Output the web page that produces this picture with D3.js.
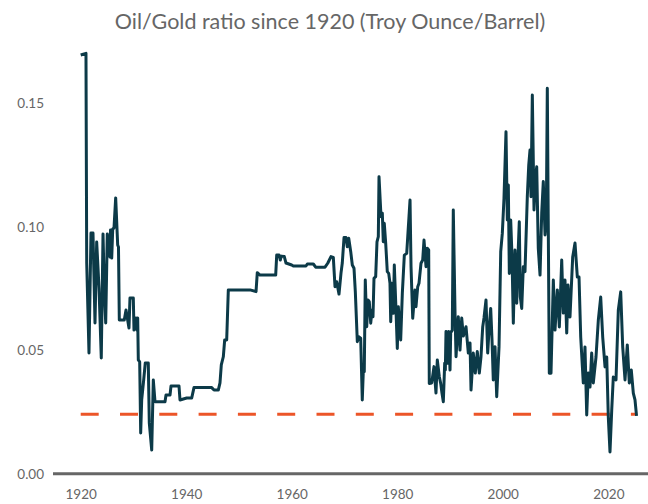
<!DOCTYPE html>
<html>
<head>
<meta charset="utf-8">
<script src="https://cdn.jsdelivr.net/npm/d3@7"></script>
<style>
  html, body { margin: 0; padding: 0; background: #ffffff; }
  svg { display: block; }
  text { font-family: Lato, "Open Sans", sans-serif; }
</style>
</head>
<body>
<svg id="chart" width="648" height="504"></svg>
<script>
const titleText = "Oil/Gold ratio since 1920 (Troy Ounce/Barrel)";
const xTicks = [1920, 1940, 1960, 1980, 2000, 2020];
const yTicks = [0, 0.05, 0.10, 0.15];
const thresholdValue = 0.0241;
const thresholdYears = [1920, 2025.35];

const years = [
  1920.00, 1921.00, 1921.14, 1921.57, 1921.95, 1922.33, 1922.71, 1923.03, 1923.47, 1923.90,
  1924.23, 1924.47, 1924.74, 1925.04, 1925.55, 1925.65, 1925.88, 1926.07, 1926.31, 1926.63,
  1927.01, 1927.16, 1927.32, 1928.26, 1928.59, 1929.15, 1929.34, 1929.97, 1930.10, 1930.48,
  1930.67, 1930.80, 1930.92, 1931.18, 1931.37, 1931.56, 1931.94, 1932.24, 1932.81, 1933.00,
  1933.46, 1933.76, 1934.08, 1935.98, 1936.17, 1936.93, 1937.12, 1938.63, 1938.82, 1940.09,
  1941.04, 1941.47, 1944.83, 1945.27, 1946.08, 1946.40, 1946.65, 1947.03, 1947.29, 1947.67,
  1947.98, 1952.09, 1953.23, 1953.47, 1953.98, 1956.96, 1957.15, 1957.59, 1957.83, 1958.02,
  1958.59, 1958.91, 1959.99, 1960.30, 1962.70, 1962.95, 1964.09, 1964.54, 1966.31, 1966.82,
  1967.44, 1967.88, 1968.20, 1968.52, 1968.96, 1969.34, 1969.58, 1969.91, 1970.28, 1970.53,
  1970.80, 1971.18, 1971.48, 1971.80, 1972.05, 1972.43, 1972.69, 1973.07, 1973.37, 1973.56,
  1973.75, 1973.94, 1974.21, 1974.45, 1974.70, 1974.97, 1975.21, 1975.40, 1975.59, 1975.91,
  1976.16, 1976.41, 1976.54, 1976.92, 1977.17, 1977.35, 1977.54, 1977.81, 1978.11, 1978.38,
  1978.62, 1978.76, 1979.00, 1979.25, 1979.44, 1979.76, 1980.01, 1980.20, 1980.65, 1980.96,
  1981.34, 1981.79, 1982.42, 1982.61, 1982.93, 1983.36, 1983.55, 1983.88, 1984.12, 1984.50,
  1984.82, 1985.07, 1985.45, 1985.69, 1985.96, 1986.07, 1986.53, 1986.96, 1987.34, 1987.59,
  1987.97, 1988.23, 1988.48, 1988.73, 1988.99, 1989.11, 1989.24, 1989.49, 1989.75, 1990.00,
  1990.13, 1990.43, 1990.62, 1990.95, 1991.14, 1991.57, 1991.89, 1992.22, 1992.52, 1993.03,
  1993.47, 1993.79, 1993.98, 1994.41, 1994.79, 1995.17, 1995.55, 1995.87, 1996.20, 1996.44,
  1996.82, 1997.14, 1997.39, 1997.71, 1997.96, 1998.20, 1998.53, 1998.85, 1999.29, 1999.61,
  1999.91, 2000.23, 2000.61, 2000.86, 2001.05, 2001.24, 2001.50, 2001.75, 2002.00, 2002.32,
  2002.64, 2002.94, 2003.13, 2003.32, 2003.59, 2003.89, 2004.21, 2004.65, 2004.92, 2005.16,
  2005.35, 2005.60, 2005.92, 2006.17, 2006.43, 2006.73, 2007.06, 2007.38, 2007.68, 2008.01,
  2008.25, 2008.44, 2008.82, 2009.14, 2009.58, 2009.90, 2010.34, 2010.72, 2011.17, 2011.47,
  2011.79, 2012.12, 2012.36, 2012.74, 2013.25, 2013.69, 2014.13, 2014.45, 2014.77, 2015.26,
  2015.58, 2015.91, 2016.21, 2016.53, 2016.85, 2017.16, 2017.67, 2018.11, 2018.56, 2018.94,
  2019.38, 2019.70, 2020.00, 2020.32, 2020.65, 2020.95, 2021.46, 2021.90, 2022.35, 2022.73,
  2023.17, 2023.60, 2023.98, 2024.36, 2024.74, 2025.06, 2025.35
];

const ratios = [
  0.1697, 0.1704, 0.0854, 0.0489, 0.0976, 0.0976, 0.0611, 0.0939, 0.0753, 0.0469,
  0.0972, 0.0753, 0.0611, 0.0972, 0.0878, 0.0988, 0.0874, 0.0992, 0.0996, 0.1118,
  0.0927, 0.0919, 0.0623, 0.0623, 0.0664, 0.0591, 0.0712, 0.0712, 0.0582, 0.0631,
  0.0582, 0.0631, 0.0461, 0.0453, 0.0165, 0.0299, 0.0380, 0.0449, 0.0449, 0.0206,
  0.0096, 0.0380, 0.0292, 0.0292, 0.0319, 0.0319, 0.0356, 0.0356, 0.0299, 0.0307,
  0.0307, 0.0349, 0.0349, 0.0339, 0.0339, 0.0368, 0.0441, 0.0474, 0.0542, 0.0542,
  0.0745, 0.0745, 0.0738, 0.0815, 0.0805, 0.0805, 0.0886, 0.0886, 0.0866, 0.0882,
  0.0880, 0.0854, 0.0846, 0.0842, 0.0842, 0.0850, 0.0850, 0.0837, 0.0837, 0.0853,
  0.0880, 0.0877, 0.0758, 0.0778, 0.0728, 0.0814, 0.0854, 0.0957, 0.0957, 0.0920,
  0.0954, 0.0900, 0.0846, 0.0833, 0.0738, 0.0535, 0.0555, 0.0549, 0.0299, 0.0413,
  0.0413, 0.0785, 0.0596, 0.0704, 0.0697, 0.0610, 0.0664, 0.0636, 0.0792, 0.0799,
  0.0940, 0.0961, 0.1204, 0.1042, 0.1056, 0.0940, 0.1015, 0.0934, 0.0819, 0.0812,
  0.0772, 0.0616, 0.0772, 0.0650, 0.0846, 0.0664, 0.0508, 0.0677, 0.0542, 0.0731,
  0.0886, 0.0893, 0.1109, 0.0839, 0.0630, 0.0745, 0.0677, 0.0758, 0.0772, 0.0853,
  0.0866, 0.0947, 0.0839, 0.0914, 0.0907, 0.0366, 0.0368, 0.0434, 0.0327, 0.0461,
  0.0393, 0.0366, 0.0326, 0.0292, 0.0448, 0.0420, 0.0576, 0.0448, 0.0576, 0.0420,
  0.0572, 0.0582, 0.1069, 0.0650, 0.0474, 0.0636, 0.0501, 0.0631, 0.0558, 0.0596,
  0.0489, 0.0530, 0.0339, 0.0489, 0.0408, 0.0495, 0.0408, 0.0474, 0.0596, 0.0631,
  0.0704, 0.0489, 0.0582, 0.0670, 0.0542, 0.0380, 0.0515, 0.0312, 0.0515, 0.0900,
  0.0974, 0.1116, 0.1386, 0.1028, 0.1170, 0.0812, 0.1028, 0.0880, 0.0610, 0.0907,
  0.0691, 0.0914, 0.1021, 0.0717, 0.0670, 0.0839, 0.0819, 0.1123, 0.1251, 0.1312,
  0.1123, 0.1535, 0.1069, 0.1191, 0.1244, 0.0914, 0.0805, 0.1056, 0.1184, 0.0968,
  0.1028, 0.1562, 0.0407, 0.0407, 0.0785, 0.0582, 0.0745, 0.0595, 0.0866, 0.0651,
  0.0785, 0.0570, 0.0765, 0.0635, 0.0878, 0.0935, 0.0797, 0.0797, 0.0554, 0.0368,
  0.0514, 0.0238, 0.0408, 0.0351, 0.0489, 0.0368, 0.0473, 0.0623, 0.0716, 0.0554,
  0.0433, 0.0473, 0.0230, 0.0088, 0.0258, 0.0392, 0.0380, 0.0664, 0.0737, 0.0514,
  0.0380, 0.0522, 0.0368, 0.0420, 0.0327, 0.0299, 0.0234
];

const svg = d3.select("#chart");
const W = 648, H = 504;

const x = d3.scaleLinear().domain([1920, 2020]).range([80.7, 608.3]);
const y = d3.scaleLinear().domain([0, 0.15]).range([473.7, 103.65]);

// title
svg.append("text")
  .attr("x", 330)
  .attr("y", 28.5)
  .attr("text-anchor", "middle")
  .attr("font-size", 21.5)
  .attr("fill", "#666666")
  .text(titleText);

// y axis labels (no line)
const yAxis = d3.axisLeft(y)
  .tickValues(yTicks)
  .tickFormat(d3.format(".2f"))
  .tickSize(0)
  .tickPadding(0);
const gy = svg.append("g").attr("transform", "translate(44,0)").call(yAxis);
gy.select(".domain").remove();
gy.selectAll("text")
  .attr("font-size", 13.5)
  .attr("fill", "#666666")
  .style("font-family", "Lato, 'Open Sans', sans-serif");

// x axis
const xAxis = d3.axisBottom(x)
  .tickValues(xTicks)
  .tickFormat(d3.format("d"))
  .tickSize(0)
  .tickPadding(16);
const gx = svg.append("g").attr("transform", "translate(0," + y(0) + ")").call(xAxis);
gx.select(".domain").remove();
gx.selectAll("text")
  .attr("font-size", 13.5)
  .attr("fill", "#666666")
  .style("font-family", "Lato, 'Open Sans', sans-serif");

gx.append("line")
  .attr("x1", 53)
  .attr("x2", W)
  .attr("y1", 0)
  .attr("y2", 0)
  .attr("stroke", "#666666")
  .attr("stroke-width", 3);

// threshold dashed line
const thrLine = d3.line().x(d => x(d)).y(() => y(thresholdValue));
svg.append("path")
  .attr("d", thrLine(thresholdYears))
  .attr("fill", "none")
  .attr("stroke", "#ec5528")
  .attr("stroke-width", 3)
  .attr("stroke-dasharray", "18 21.3");

// main series
const data = years.map((yr, i) => ({ yr, v: ratios[i] }));
const line = d3.line().x(d => x(d.yr)).y(d => y(d.v));
svg.append("path")
  .datum(data)
  .attr("d", line)
  .attr("fill", "none")
  .attr("stroke", "#0c3a48")
  .attr("stroke-width", 3)
  .attr("stroke-linejoin", "round");
</script>
</body>
</html>
